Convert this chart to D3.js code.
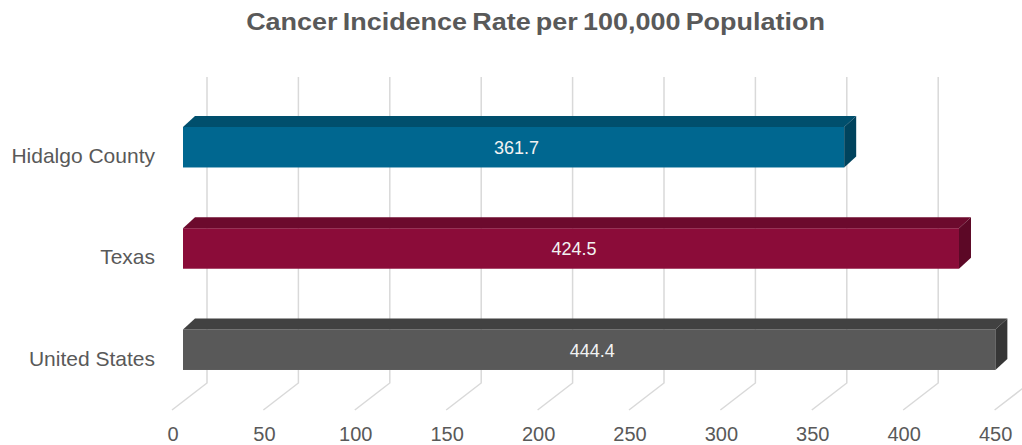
<!DOCTYPE html>
<html>
<head>
<meta charset="utf-8">
<script src="https://cdn.jsdelivr.net/npm/d3@7"></script>
<style>
  html, body { margin: 0; padding: 0; background: #fff; }
  svg { display: block; font-family: "Liberation Sans", Arial, sans-serif; }
</style>
</head>
<body>
<svg id="chart" width="1022" height="445"></svg>
<script>
// Chart data
const categories = ["Hidalgo County", "Texas", "United States"];
const rates = [361.7, 424.5, 444.4];
const tickValues = [0, 50, 100, 150, 200, 250, 300, 350, 400, 450];
const titleText = "Cancer Incidence Rate per 100,000 Population";

// Face colours per bar: front, top, side
const barColors = [
  { front: "#006790", top: "#004f6d", side: "#00435d" },
  { front: "#8b0c39", top: "#6c0a2d", side: "#5c0826" },
  { front: "#595959", top: "#414141", side: "#363636" }
];

const svg = d3.select("#chart");

// Horizontal value scale for the front face of the bars
const x = d3.scaleLinear().domain([0, 450]).range([183, 183 + 822.6]);

// Depth offsets for the 3D look
const wallDX = 24;     // back wall relative to bar front face
const floorDX = -11;   // front edge of floor relative to bar front face
const depthDX = 12, depthDY = -11; // bar depth
const wallTop = 77, wallBottom = 383, floorFront = 410;

const y = d3.scaleBand()
  .domain(categories)
  .range([96.6, 400.35])
  .paddingInner(0.6)
  .paddingOuter(0.3);

// Gridlines on back wall + floor
const grid = svg.append("g").attr("stroke", "#d9d9d9").attr("stroke-width", 1.5).attr("fill", "none");
grid.selectAll("path")
  .data(tickValues)
  .join("path")
  .attr("d", v => {
    const xb = x(v) + wallDX, xf = x(v) + floorDX;
    return `M${xb},${wallTop}L${xb},${wallBottom}L${xf},${floorFront}`;
  });

// Bars
const data = categories.map((c, i) => ({ cat: c, value: rates[i], col: barColors[i] }));
const bars = svg.append("g").selectAll("g").data(data).join("g");

bars.append("rect")
  .attr("x", x(0))
  .attr("y", d => y(d.cat))
  .attr("width", d => x(d.value) - x(0))
  .attr("height", y.bandwidth())
  .attr("fill", d => d.col.front);

bars.append("path")
  .attr("fill", d => d.col.top)
  .attr("d", d => {
    const x0 = x(0), x1 = x(d.value), t = y(d.cat);
    return `M${x0},${t}L${x0 + depthDX},${t + depthDY}L${x1 + depthDX},${t + depthDY}L${x1},${t}Z`;
  });

bars.append("path")
  .attr("fill", d => d.col.side)
  .attr("d", d => {
    const x1 = x(d.value), t = y(d.cat), b = t + y.bandwidth();
    return `M${x1},${t}L${x1 + depthDX},${t + depthDY}L${x1 + depthDX},${b + depthDY}L${x1},${b}Z`;
  });

// Value labels
bars.append("text")
  .attr("x", d => (x(0) + x(d.value)) / 2 + 3)
  .attr("y", d => y(d.cat) + y.bandwidth() / 2 + 7)
  .attr("text-anchor", "middle")
  .attr("font-size", 18)
  .attr("fill", "#f2f2f2")
  .text(d => d.value.toFixed(1));

// Category labels
svg.append("g").selectAll("text")
  .data(categories)
  .join("text")
  .attr("x", 155)
  .attr("y", d => y(d) + y.bandwidth() / 2 + 16)
  .attr("text-anchor", "end")
  .attr("font-size", 21)
  .attr("fill", "#595959")
  .text(d => d);

// Value axis tick labels along the floor front edge
svg.append("g").selectAll("text")
  .data(tickValues)
  .join("text")
  .attr("x", v => x(v) + floorDX + 1)
  .attr("y", 441)
  .attr("text-anchor", "middle")
  .attr("font-size", 20)
  .attr("fill", "#595959")
  .text(d => d);

// Title: bold face, stretched horizontally to its set width
const titleCx = 535.5, titleWidth = 579;
const title = svg.append("text")
  .attr("x", 0)
  .attr("y", 0)
  .attr("text-anchor", "middle")
  .attr("font-size", 23.5)
  .attr("font-weight", "bold")
  .attr("fill", "#595959")
  .style("word-spacing", "-2px")
  .text(titleText);
const natural = title.node().getComputedTextLength();
title.attr("transform", `translate(${titleCx},30) scale(${titleWidth / natural},1)`);
</script>
</body>
</html>
